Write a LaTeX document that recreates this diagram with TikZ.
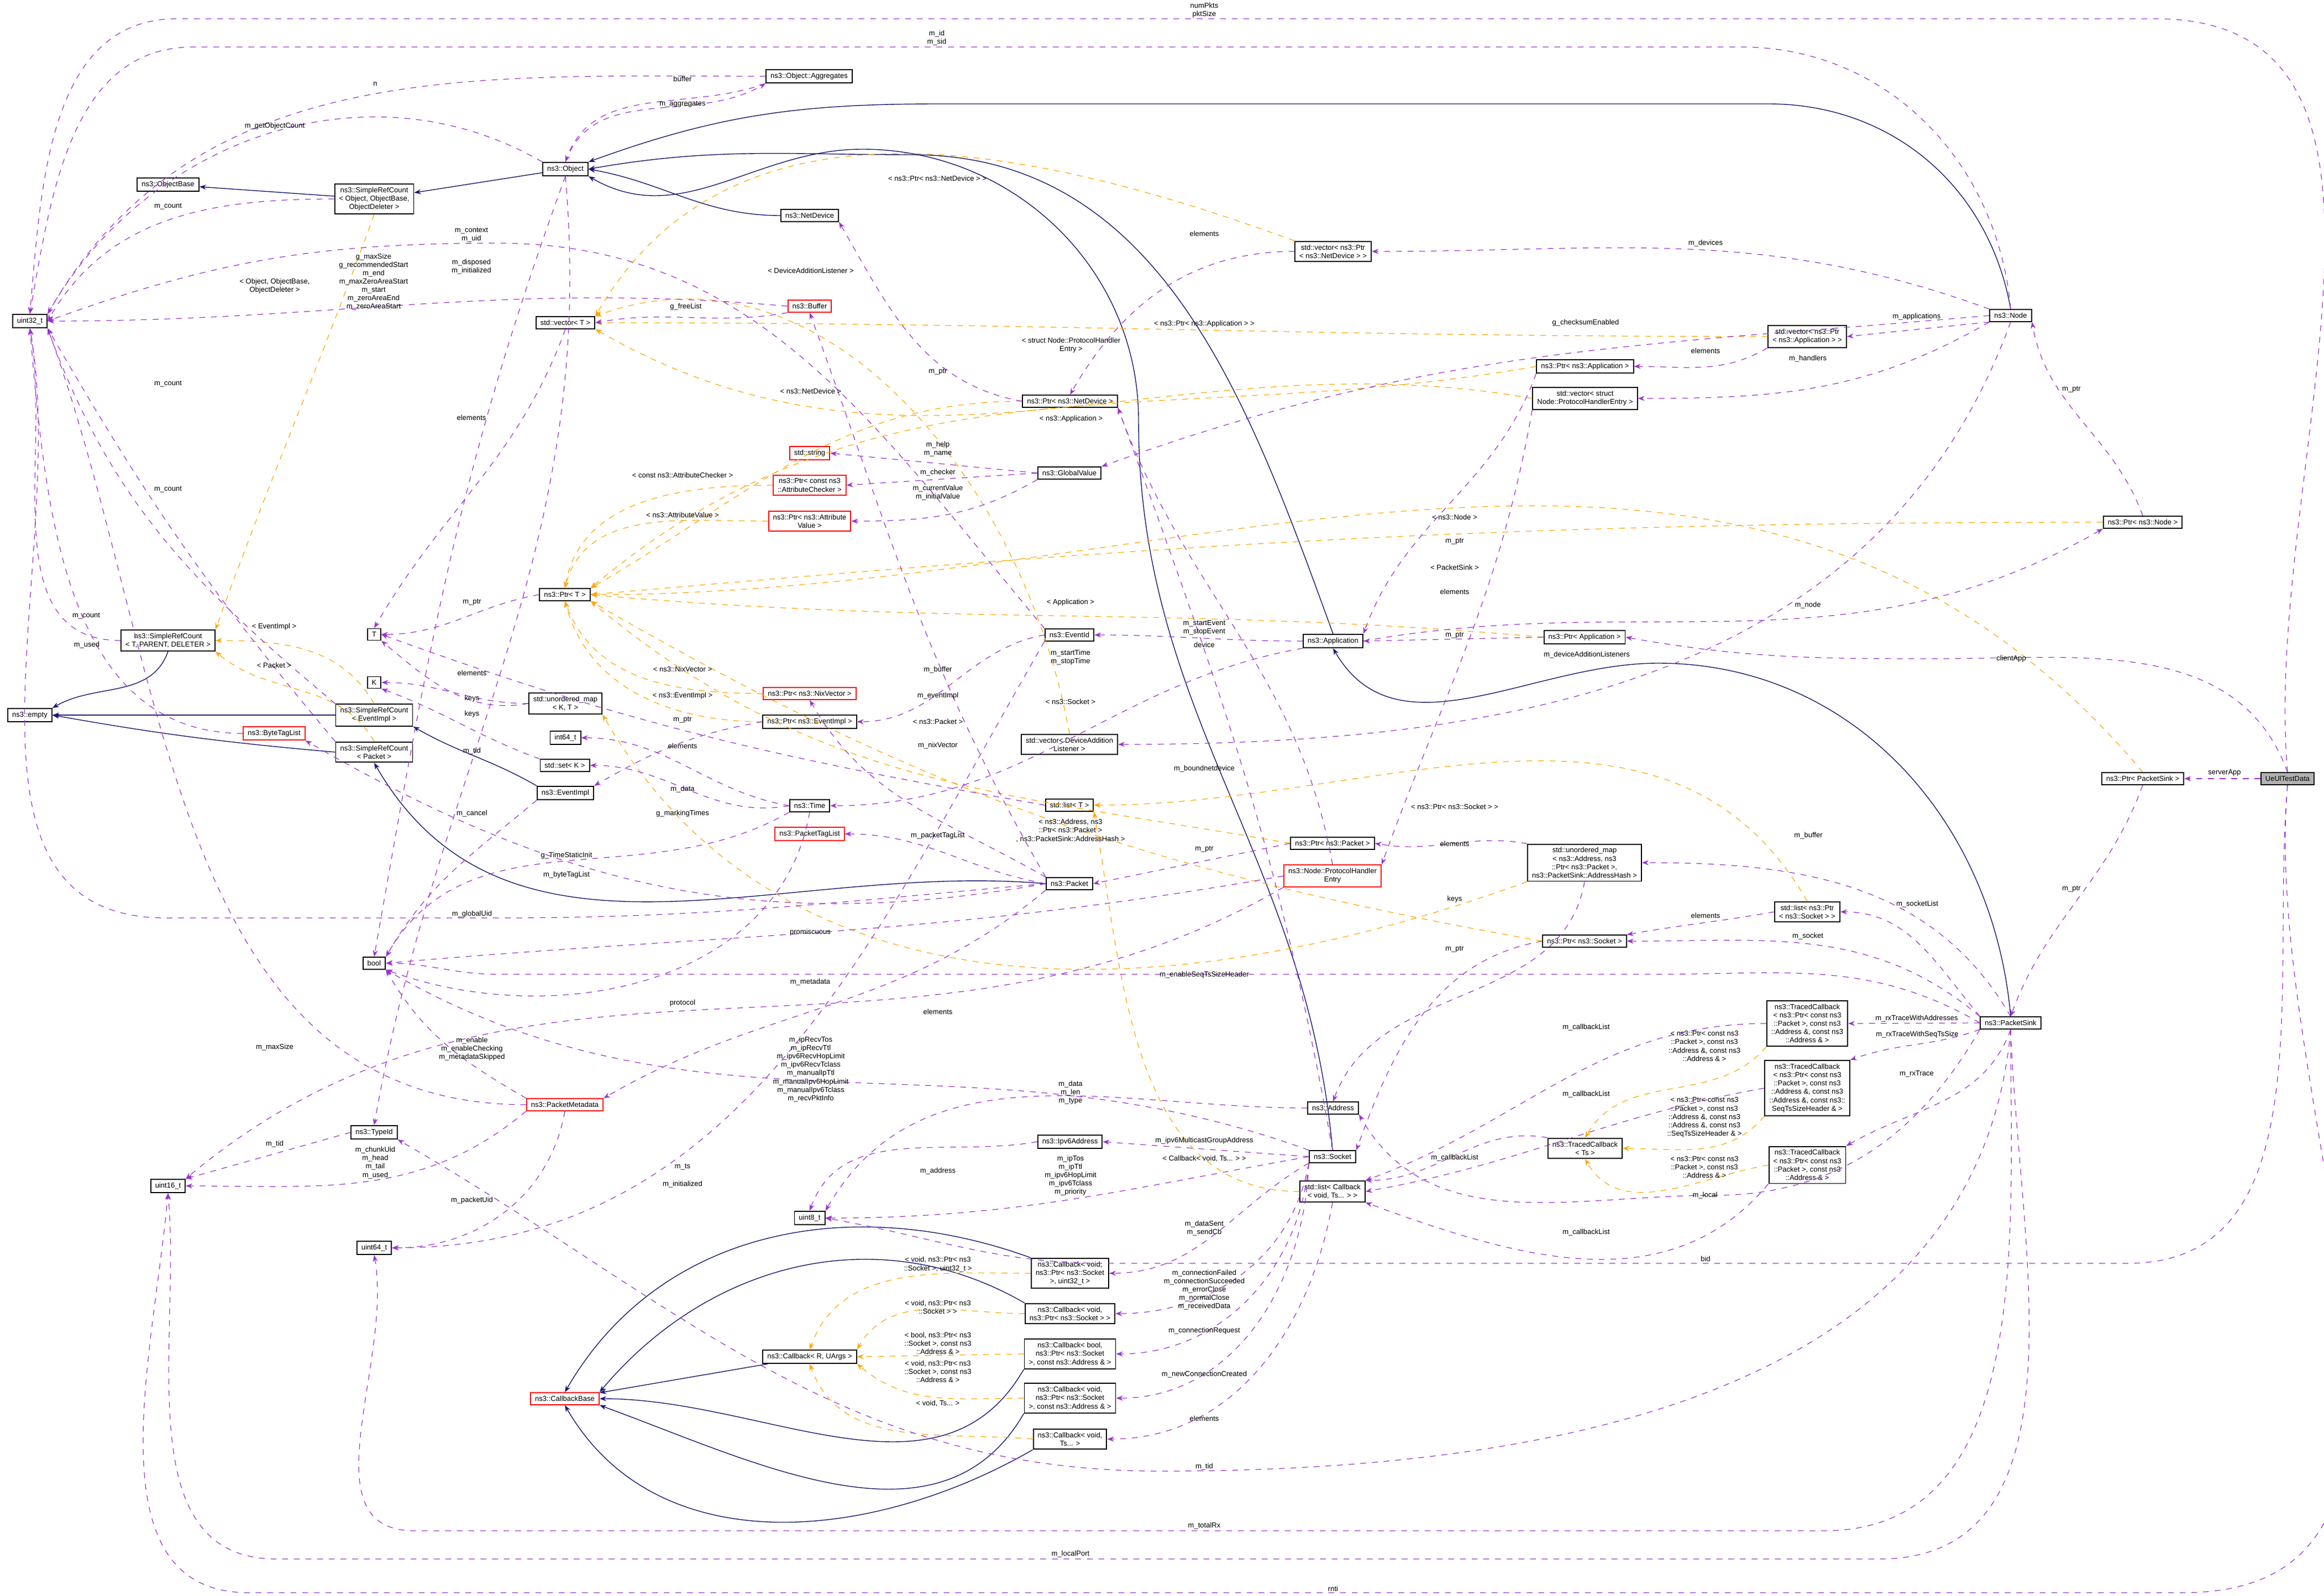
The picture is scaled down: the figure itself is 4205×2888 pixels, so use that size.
\documentclass[tikz,border=0pt]{standalone}
\usepackage{fontspec}
\setmainfont{Liberation Sans}
\usetikzlibrary{arrows.meta}
\definecolor{pur}{HTML}{9A32CD}
\definecolor{org}{HTML}{FFA500}
\definecolor{nav}{HTML}{191970}
\begin{document}
\begin{tikzpicture}[x=0.01cm,y=-0.01cm,
  font=\fontsize{3.7}{4.3}\selectfont,
  box/.style={draw=black,line width=0.55pt,fill=white,inner xsep=0.08cm,inner ysep=0.06cm,align=center},
  rbox/.style={box,draw=red},
  gbox/.style={box,fill=black!30},
  mem/.style={draw=pur,dashed,line width=0.35pt,-{Stealth[length=0.12cm,width=0.09cm]}},
  tpl/.style={draw=org,dashed,line width=0.35pt,-{Stealth[length=0.12cm,width=0.09cm]}},
  inh/.style={draw=nav,line width=0.4pt,-{Stealth[length=0.12cm,width=0.09cm]}},
  lbl/.style={inner sep=0.5pt,align=center,fill=white,fill opacity=0,text opacity=1}]
\useasboundingbox (0,0) rectangle (4205,2888);
% ---------- nodes ----------
\node[box] (u32) at (54,581) {uint32\_t};
\node[box] (obase) at (304,334) {ns3::ObjectBase};
\node[box] (srcobj) at (677,360) {ns3::SimpleRefCount\\< Object, ObjectBase,\\ObjectDeleter >};
\node[box] (obj) at (1023,306) {ns3::Object};
\node[box] (aggr) at (1464,138) {ns3::Object::Aggregates};
\node[box] (vecT) at (1023,584) {std::vector< T >};
\node[box] (netdev) at (1465,390) {ns3::NetDevice};
\node[rbox] (buffer) at (1465,554) {ns3::Buffer};
\node[box] (vecnd) at (2412,455) {std::vector< ns3::Ptr\\< ns3::NetDevice > >};
\node[box] (ptrnd) at (1936,726) {ns3::Ptr< ns3::NetDevice >};
\node[rbox] (string) at (1465,820) {std::string};
\node[box] (gv) at (1935,856) {ns3::GlobalValue};
\node[rbox] (ptrchk) at (1465,878) {ns3::Ptr< const ns3\\::AttributeChecker >};
\node[rbox] (ptrav) at (1465,943) {ns3::Ptr< ns3::Attribute\\Value >};
\node[box] (ptrapp1) at (2868,663) {ns3::Ptr< ns3::Application >};
\node[box] (vecphe) at (2868,721) {std::vector< struct\\Node::ProtocolHandlerEntry >};
\node[box] (node) at (3638,571) {ns3::Node};
\node[box] (vecapp) at (3270,609) {std::vector< ns3::Ptr\\< ns3::Application > >};
\node[box] (ptrnode) at (3877,945) {ns3::Ptr< ns3::Node >};
\node[box] (ptrT) at (1022,1076) {ns3::Ptr< T >};
\node[box] (T) at (677,1148) {T};
\node[box] (K) at (677,1235) {K};
\node[box] (srcT) at (304,1159) {ns3::SimpleRefCount\\< T, PARENT, DELETER >};
\node[box] (empty) at (54,1294) {ns3::empty};
\node[box] (srcev) at (677,1294) {ns3::SimpleRefCount\\< EventImpl >};
\node[rbox] (btl) at (496,1327) {ns3::ByteTagList};
\node[box] (srcpkt) at (677,1361) {ns3::SimpleRefCount\\< Packet >};
\node[box] (umapKT) at (1023,1273) {std::unordered\_map\\< K, T >};
\node[box] (i64) at (1023,1335) {int64\_t};
\node[box] (setK) at (1022,1385) {std::set< K >};
\node[box] (evimpl) at (1023,1435) {ns3::EventImpl};
\node[box] (bool) at (677,1743) {bool};
\node[box] (evid) at (1935,1149) {ns3::EventId};
\node[box] (app) at (2412,1160) {ns3::Application};
\node[rbox] (ptrnix) at (1465,1255) {ns3::Ptr< ns3::NixVector >};
\node[box] (ptrevi) at (1465,1306) {ns3::Ptr< ns3::EventImpl >};
\node[box] (vecdal) at (1935,1347) {std::vector< DeviceAddition\\Listener >};
\node[box] (time) at (1465,1458) {ns3::Time};
\node[box] (listT) at (1935,1457) {std::list< T >};
\node[rbox] (ptl) at (1465,1509) {ns3::PacketTagList};
\node[box] (pkt) at (1935,1599) {ns3::Packet};
\node[box] (ptrpkt) at (2411,1526) {ns3::Ptr< ns3::Packet >};
\node[rbox] (phe) at (2411,1585) {ns3::Node::ProtocolHandler\\Entry};
\node[box] (umapaddr) at (2867,1561) {std::unordered\_map\\< ns3::Address, ns3\\::Ptr< ns3::Packet >,\\ns3::PacketSink::AddressHash >};
\node[box] (ptrsock) at (2867,1703) {ns3::Ptr< ns3::Socket >};
\node[box] (ptrapp2) at (2867,1153) {ns3::Ptr< Application >};
\node[box] (ptrsink) at (3877,1409) {ns3::Ptr< PacketSink >};
\node[gbox] (ue) at (4139,1409) {UeUlTestData};
\node[box] (listsock) at (3270,1650) {std::list< ns3::Ptr\\< ns3::Socket > >};
\node[box] (sink) at (3638,1851) {ns3::PacketSink};
\node[box] (tc5) at (3270,1852) {ns3::TracedCallback\\< ns3::Ptr< const ns3\\::Packet >, const ns3\\::Address \&, const ns3\\::Address \& >};
\node[box] (tc6) at (3270,1969) {ns3::TracedCallback\\< ns3::Ptr< const ns3\\::Packet >, const ns3\\::Address \&, const ns3\\::Address \&, const ns3::\\SeqTsSizeHeader \& >};
\node[box] (tcts) at (2868,2078) {ns3::TracedCallback\\< Ts >};
\node[box] (tc4) at (3270,2108) {ns3::TracedCallback\\< ns3::Ptr< const ns3\\::Packet >, const ns3\\::Address \& >};
\node[box] (addr) at (2412,2005) {ns3::Address};
\node[box] (ipv6) at (1936,2066) {ns3::Ipv6Address};
\node[box] (sock) at (2411,2093) {ns3::Socket};
\node[box] (listcb) at (2411,2156) {std::list< Callback\\< void, Ts... > >};
\node[box] (u8) at (1465,2204) {uint8\_t};
\node[box] (cb1) at (1936,2304) {ns3::Callback< void,\\ns3::Ptr< ns3::Socket\\>, uint32\_t >};
\node[box] (cb2) at (1936,2377) {ns3::Callback< void,\\ns3::Ptr< ns3::Socket > >};
\node[box] (cb3) at (1936,2450) {ns3::Callback< bool,\\ns3::Ptr< ns3::Socket\\>, const ns3::Address \& >};
\node[box] (cb4) at (1936,2530) {ns3::Callback< void,\\ns3::Ptr< ns3::Socket\\>, const ns3::Address \& >};
\node[box] (cb5) at (1936,2604) {ns3::Callback< void,\\Ts... >};
\node[box] (cbR) at (1465,2455) {ns3::Callback< R, UArgs >};
\node[box] (u16) at (304,2146) {uint16\_t};
\node[box] (typeid) at (677,2049) {ns3::TypeId};
\node[rbox] (pmeta) at (1022,1999) {ns3::PacketMetadata};
\node[box] (u64) at (677,2258) {uint64\_t};
\node[rbox] (cbbase) at (1022,2531) {ns3::CallbackBase};
% ---------- inheritance ----------
\draw[inh] (srcobj) -- (obase);
\draw[inh] (obj) -- (srcobj);
\draw[inh] (netdev.west) to[out=180,in=-10] (obj.east);
\draw[inh] (node.north) to[out=100,in=0] (3200,188) -- (1700,188) to[out=180,in=20] (obj.north east);
\draw[inh] (app.north) to[out=110,in=0] (1650,280) to[out=180,in=10] (obj.east);
\draw[inh] (sock.north) to[out=95,in=-90] (2060,760) to[out=90,in=0] (1560,270) to[out=180,in=-30] (obj.south east);
\draw[inh] (sink.north) to[out=95,in=0] (3000,1200) to[out=180,in=-60] (app.south);
\draw[inh] (evimpl.north west) to[out=150,in=-30] (srcev.south east);
\draw[inh] (pkt.west) to[out=175,in=-60] (srcpkt.south);
\draw[inh] (srcT.south) to[out=-110,in=30] (empty.north east);
\draw[inh] (srcev) -- (empty);
\draw[inh] (srcpkt.west) to[out=175,in=-10] (empty.east);
\draw[inh] (cbR) -- (cbbase);
\draw[inh] (cb1.north west) to[out=160,in=60] (cbbase.north);
\draw[inh] (cb2.north west) to[out=150,in=50] (cbbase.north east);
\draw[inh] (cb3.south west) to[out=-120,in=0] (cbbase.east);
\draw[inh] (cb4.south west) to[out=-120,in=-20] (cbbase.south east);
\draw[inh] (cb5.south west) to[out=-150,in=-60] (cbbase.south);
% ---------- template (orange) ----------
\draw[tpl] (srcobj.south) to[out=-110,in=70] (srcT.north east);
\draw[tpl] (srcev.north) to[out=120,in=0] (srcT.east);
\draw[tpl] (srcpkt.north) to[out=120,in=-40] (srcT.south east);
\draw[tpl] (vecnd.north west) to[out=160,in=60] (vecT.north east);
\draw[tpl] (vecdal.north) to[out=100,in=20] (vecT.north east);
\draw[tpl] (vecapp.west) to[out=180,in=0] (vecT.east);
\draw[tpl] (vecphe.west) to[out=170,in=-30] (vecT.south east);
\draw[tpl] (ptrnd.west) to[out=180,in=30] (ptrT.north east);
\draw[tpl] (ptrapp1.west) to[out=190,in=40] (ptrT.north east);
\draw[tpl] (ptrchk.west) to[out=180,in=80] (ptrT.north);
\draw[tpl] (ptrav.west) to[out=180,in=75] (ptrT.north);
\draw[tpl] (ptrnode.west) to[out=180,in=5] (ptrT.east);
\draw[tpl] (ptrsink.north) to[out=130,in=0] (ptrT.east);
\draw[tpl] (ptrapp2.west) to[out=175,in=-5] (ptrT.east);
\draw[tpl] (ptrnix.west) to[out=180,in=-70] (ptrT.south);
\draw[tpl] (ptrevi.west) to[out=180,in=-75] (ptrT.south);
\draw[tpl] (ptrsock.west) to[out=170,in=-30] (ptrT.south east);
\draw[tpl] (ptrpkt.west) to[out=170,in=-40] (ptrT.south east);
\draw[tpl] (umapaddr.south west) to[out=200,in=-60] (umapKT.south east);
\draw[tpl] (listsock.north) to[out=120,in=0] (listT.east);
\draw[tpl] (listcb.west) to[out=180,in=-80] (listT.south east);
\draw[tpl] (tc5.south west) to[out=-130,in=60] (tcts.north);
\draw[tpl] (tc6.south west) to[out=-130,in=0] (tcts.east);
\draw[tpl] (tc4.west) to[out=190,in=-60] (tcts.south);
\draw[tpl] (cb1.west) to[out=180,in=70] (cbR.north);
\draw[tpl] (cb2.west) to[out=180,in=60] (cbR.north east);
\draw[tpl] (cb3.west) -- (cbR.east);
\draw[tpl] (cb4.west) to[out=180,in=-40] (cbR.south east);
\draw[tpl] (cb5.west) to[out=175,in=-70] (cbR.south);
% ---------- members (purple) ----------
\draw[mem] (ue.north) to[out=95,in=0] (3900,34) -- (320,34) to[out=180,in=85] (u32.north);
\draw[mem] (node.north) to[out=95,in=0] (3150,85) -- (350,85) to[out=180,in=80] (u32.north);
\draw[mem] (aggr.west) to[out=180,in=60] (u32.north east);
\draw[mem] (aggr.south west) to[out=200,in=70] (obj.north);
\draw[mem] (obj.north) to[out=70,in=-150] (aggr.south west);
\draw[mem] (obj.north west) to[out=150,in=60] (u32.north east);
\draw[mem] (srcobj.west) to[out=180,in=60] (u32.east);
\draw[mem] (evid.north west) to[out=130,in=0] (900,440) to[out=180,in=20] (u32.east);
\draw[mem] (buffer.west) to[out=175,in=0] (u32.east);
\draw[mem] (obj.south) to[out=-110,in=80] (bool.north);
\draw[mem] (buffer.south west) to[out=190,in=10] (vecT.east);
\draw[mem] (vecT.south) to[out=-110,in=60] (T.north);
\draw[mem] (ptrT.west) to[out=190,in=0] (T.east);
\draw[mem] (ptrnd.west) to[out=170,in=-60] (netdev.south east);
\draw[mem] (vecnd.west) to[out=180,in=60] (ptrnd.north);
\draw[mem] (node.north west) to[out=160,in=0] (vecnd.east);
\draw[mem] (node.west) to[out=185,in=20] (gv.north east);
\draw[mem] (node.south west) -- (vecapp.east);
\draw[mem] (vecapp.south west) to[out=-150,in=0] (ptrapp1.east);
\draw[mem] (node.south west) to[out=-150,in=0] (vecphe.east);
\draw[mem] (gv.west) -- (string.east);
\draw[mem] (gv.west) -- (ptrchk.east);
\draw[mem] (gv.south west) to[out=-150,in=0] (ptrav.east);
\draw[mem] (ptrnode.north) to[out=110,in=-80] (node.south east);
\draw[mem] (ptrapp1.south west) to[out=-110,in=70] (app.north east);
\draw[mem] (vecphe.south west) to[out=-100,in=70] (phe.north east);
\draw[mem] (app.west) to[out=180,in=0] (evid.east);
\draw[mem] (app.south west) to[out=190,in=0] (time.east);
\draw[mem] (phe.north) to[out=100,in=-70] (ptrnd.south east);
\draw[mem] (app.east) to[out=10,in=-150] (ptrnode.south west);
\draw[mem] (ptrapp2.west) -- (app.east);
\draw[mem] (node.south) to[out=-110,in=0] (vecdal.east);
\draw[mem] (ue.north) to[out=110,in=0] (3500,1192) to[out=180,in=-10] (ptrapp2.east);
\draw[mem] (ue.west) -- (ptrsink.east);
\draw[mem] (ptrsink.south) to[out=-110,in=70] (sink.north);
\draw[mem] (sink.north) to[out=120,in=0] (umapaddr.east);
\draw[mem] (sink.north west) to[out=130,in=0] (listsock.east);
\draw[mem] (sink.north west) to[out=140,in=0] (ptrsock.east);
\draw[mem] (sink.west) to[out=150,in=0] (3000,1763) -- (900,1763) to[out=180,in=0] (bool.east);
\draw[mem] (sink.west) -- (tc5.east);
\draw[mem] (sink.south west) to[out=-160,in=20] (tc6.north east);
\draw[mem] (sink.south) to[out=-110,in=30] (tc4.north east);
\draw[mem] (sink.south west) to[out=-120,in=0] (3100,2163) to[out=180,in=-60] (addr.south east);
\draw[mem] (sink.south) to[out=-95,in=0] (2100,2662) to[out=180,in=-30] (typeid.south east);
\draw[mem] (sink.south) to[out=-90,in=0] (3300,2770) -- (750,2770) to[out=180,in=-80] (u64.south);
\draw[mem] (sink.south) to[out=-88,in=0] (3400,2821) -- (500,2821) to[out=180,in=-85] (u16.south);
\draw[mem] (ue.south) to[out=-95,in=0] (3950,2882) -- (450,2882) to[out=180,in=-95] (u16.south);
\draw[mem] (ue.south) to[out=-95,in=0] (3850,2286) -- (2000,2286) to[out=180,in=-10] (u8.east);
\draw[mem] (listsock.west) to[out=190,in=10] (ptrsock.north east);
\draw[mem] (umapaddr.north west) to[out=170,in=-10] (ptrpkt.east);
\draw[mem] (umapaddr.south) to[out=-100,in=70] (addr.north);
\draw[mem] (ptrsock.west) to[out=190,in=70] (sock.north east);
\draw[mem] (ptrpkt.west) -- (pkt.east);
\draw[mem] (pkt.west) to[out=170,in=0] (ptl.east);
\draw[mem] (pkt.north west) to[out=120,in=-70] (buffer.south);
\draw[mem] (pkt.north west) to[out=150,in=-60] (ptrnix.south);
\draw[mem] (pkt.west) to[out=190,in=-30] (btl.south east);
\draw[mem] (pkt.west) to[out=185,in=0] (900,1661) -- (300,1661) to[out=180,in=-80] (u32.south);
\draw[mem] (pkt.south west) to[out=-140,in=30] (pmeta.north east);
\draw[mem] (srcT.west) to[out=180,in=-80] (u32.south);
\draw[mem] (srcev.north west) to[out=140,in=-70] (u32.south east);
\draw[mem] (srcpkt.north west) to[out=130,in=-60] (u32.south east);
\draw[mem] (btl.west) to[out=180,in=-85] (u32.south);
\draw[mem] (evimpl.south west) to[out=-140,in=60] (bool.north east);
\draw[mem] (time.south west) to[out=-150,in=60] (bool.north east);
\draw[mem] (time.west) to[out=170,in=0] (i64.east);
\draw[mem] (time.west) to[out=190,in=0] (setK.east);
\draw[mem] (umapKT.west) to[out=190,in=-40] (T.south east);
\draw[mem] (umapKT.west) to[out=180,in=0] (K.east);
\draw[mem] (setK.north west) to[out=160,in=-20] (K.south east);
\draw[mem] (ptrevi.west) to[out=190,in=30] (evimpl.north east);
\draw[mem] (listT.west) to[out=170,in=-20] (T.east);
\draw[mem] (evid.west) to[out=190,in=0] (ptrevi.east);
\draw[mem] (obj.south) to[out=-85,in=80] (typeid.north);
\draw[mem] (phe.west) to[out=190,in=5] (bool.east);
\draw[mem] (phe.south west) to[out=-150,in=40] (u16.north east);
\draw[mem] (pmeta.west) to[out=180,in=-70] (u32.south east);
\draw[mem] (pmeta.south west) to[out=-140,in=0] (u16.east);
\draw[mem] (pmeta.south) to[out=-100,in=0] (u64.east);
\draw[mem] (pmeta.north west) to[out=150,in=-60] (bool.south east);
\draw[mem] (typeid.west) -- (u16.north east);
\draw[mem] (sock.west) to[out=190,in=0] (u8.east);
\draw[mem] (sock.north west) to[out=160,in=-30] (bool.south east);
\draw[mem] (addr.west) to[out=180,in=60] (u8.north east);
\draw[mem] (sock.west) -- (ipv6.east);
\draw[mem] (ipv6.west) to[out=190,in=70] (u8.north);
\draw[mem] (sock.south west) to[out=-150,in=0] (cb1.east);
\draw[mem] (sock.south west) to[out=-100,in=0] (cb2.east);
\draw[mem] (sock.south west) to[out=-95,in=0] (cb3.east);
\draw[mem] (sock.south west) to[out=-92,in=0] (cb4.east);
\draw[mem] (listcb.south) to[out=-100,in=0] (cb5.east);
\draw[mem] (sock.north) to[out=100,in=-70] (ptrnd.south east);
\draw[mem] (tcts.north west) to[out=170,in=0] (listcb.north east);
\draw[mem] (tc5.west) to[out=180,in=20] (listcb.north east);
\draw[mem] (tc6.west) to[out=190,in=10] (listcb.east);
\draw[mem] (tc4.south west) to[out=-130,in=-20] (listcb.south east);
\draw[mem] (evid.south west) to[out=-120,in=0] (u64.east);
\draw[mem] (time.south) to[out=-100,in=-20] (bool.south east);
% ---------- labels ----------
\node[lbl] (l1) at (2179,19) {numPkts\\pktSize};
\node[lbl] (l2) at (1695,69) {m\_id\\m\_sid};
\node[lbl] (l3) at (679,152) {n};
\node[lbl] (l4) at (1235,143) {buffer};
\node[lbl] (l5) at (1235,189) {m\_aggregates};
\node[lbl] (l6) at (497,228) {m\_getObjectCount};
\node[lbl] (l7) at (304,374) {m\_count};
\node[lbl] (l8) at (497,518) {< Object, ObjectBase,\\ObjectDeleter >};
\node[lbl] (l9) at (853,425) {m\_context\\m\_uid};
\node[lbl] (l10) at (676,510) {g\_maxSize\\g\_recommendedStart\\m\_end\\m\_maxZeroAreaStart\\m\_start\\m\_zeroAreaEnd\\m\_zeroAreaStart};
\node[lbl] (l11) at (853,483) {m\_disposed\\m\_initialized};
\node[lbl] (l12) at (1241,555) {g\_freeList};
\node[lbl] (l13) at (853,756) {elements};
\node[lbl] (l14) at (304,695) {m\_count};
\node[lbl] (l15) at (304,886) {m\_count};
\node[lbl] (l16) at (1235,860) {< const ns3::AttributeChecker >};
\node[lbl] (l17) at (1235,932) {< ns3::AttributeValue >};
\node[lbl] (l18) at (1696,323) {< ns3::Ptr< ns3::NetDevice > >};
\node[lbl] (l19) at (2179,423) {elements};
\node[lbl] (l20) at (1467,490) {< DeviceAdditionListener >};
\node[lbl] (l21) at (2179,586) {< ns3::Ptr< ns3::Application > >};
\node[lbl] (l22) at (1938,625) {< struct Node::ProtocolHandler\\Entry >};
\node[lbl] (l23) at (1697,673) {m\_ptr};
\node[lbl] (l24) at (1467,708) {< ns3::NetDevice >};
\node[lbl] (l25) at (1938,758) {< ns3::Application >};
\node[lbl] (l26) at (1697,813) {m\_help\\m\_name};
\node[lbl] (l27) at (1697,855) {m\_checker};
\node[lbl] (l28) at (1697,892) {m\_currentValue\\m\_initialValue};
\node[lbl] (l29) at (2632,936) {< ns3::Node >};
\node[lbl] (l30) at (2632,980) {m\_ptr};
\node[lbl] (l31) at (3086,440) {m\_devices};
\node[lbl] (l32) at (2869,584) {g\_checksumEnabled};
\node[lbl] (l33) at (3468,573) {m\_applications};
\node[lbl] (l34) at (3086,635) {elements};
\node[lbl] (l35) at (3271,649) {m\_handlers};
\node[lbl] (l36) at (3748,705) {m\_ptr};
\node[lbl] (l37) at (156,1115) {m\_count};
\node[lbl] (l38) at (157,1167) {m\_used};
\node[lbl] (l39) at (496,1134) {< EventImpl >};
\node[lbl] (l40) at (496,1204) {< Packet >};
\node[lbl] (l41) at (854,1090) {m\_ptr};
\node[lbl] (l42) at (854,1218) {elements};
\node[lbl] (l43) at (854,1264) {keys};
\node[lbl] (l44) at (854,1292) {keys};
\node[lbl] (l45) at (854,1359) {m\_tid};
\node[lbl] (l46) at (1235,1211) {< ns3::NixVector >};
\node[lbl] (l47) at (1235,1259) {< ns3::EventImpl >};
\node[lbl] (l48) at (1235,1303) {m\_ptr};
\node[lbl] (l49) at (1235,1350) {elements};
\node[lbl] (l50) at (1235,1428) {m\_data};
\node[lbl] (l51) at (1235,1472) {g\_markingTimes};
\node[lbl] (l52) at (854,1472) {m\_cancel};
\node[lbl] (l53) at (1025,1548) {g\_TimeStaticInit};
\node[lbl] (l54) at (1025,1583) {m\_byteTagList};
\node[lbl] (l55) at (854,1654) {m\_globalUid};
\node[lbl] (l56) at (1235,1815) {protocol};
\node[lbl] (l57) at (497,1895) {m\_maxSize};
\node[lbl] (l58) at (854,1898) {m\_enable\\m\_enableChecking\\m\_metadataSkipped};
\node[lbl] (l59) at (2632,1027) {< PacketSink >};
\node[lbl] (l60) at (2632,1071) {elements};
\node[lbl] (l61) at (1937,1090) {< Application >};
\node[lbl] (l62) at (2179,1136) {m\_startEvent\\m\_stopEvent};
\node[lbl] (l63) at (2179,1167) {device};
\node[lbl] (l64) at (1937,1190) {m\_startTime\\m\_stopTime};
\node[lbl] (l65) at (2632,1150) {m\_ptr};
\node[lbl] (l66) at (1697,1212) {m\_buffer};
\node[lbl] (l67) at (1697,1259) {m\_eventImpl};
\node[lbl] (l68) at (1937,1270) {< ns3::Socket >};
\node[lbl] (l69) at (1697,1306) {< ns3::Packet >};
\node[lbl] (l70) at (1697,1349) {m\_nixVector};
\node[lbl] (l71) at (2179,1391) {m\_boundnetdevice};
\node[lbl] (l72) at (2632,1460) {< ns3::Ptr< ns3::Socket > >};
\node[lbl] (l73) at (1937,1503) {< ns3::Address, ns3\\::Ptr< ns3::Packet >\\, ns3::PacketSink::AddressHash >};
\node[lbl] (l74) at (1697,1512) {m\_packetTagList};
\node[lbl] (l75) at (2179,1537) {m\_ptr};
\node[lbl] (l76) at (2632,1527) {elements};
\node[lbl] (l77) at (2632,1627) {keys};
\node[lbl] (l78) at (1466,1687) {promiscuous};
\node[lbl] (l79) at (2632,1718) {m\_ptr};
\node[lbl] (l80) at (2179,1764) {m\_enableSeqTsSizeHeader};
\node[lbl] (l81) at (1466,1777) {m\_metadata};
\node[lbl] (l82) at (1697,1831) {elements};
\node[lbl] (l83) at (1467,1935) {m\_ipRecvTos\\m\_ipRecvTtl\\m\_ipv6RecvHopLimit\\m\_ipv6RecvTclass\\m\_manualIpTtl\\m\_manualIpv6HopLimit\\m\_manualIpv6Tclass\\m\_recvPktInfo};
\node[lbl] (l84) at (3271,1095) {m\_node};
\node[lbl] (l85) at (2871,1185) {m\_deviceAdditionListeners};
\node[lbl] (l86) at (3639,1192) {clientApp};
\node[lbl] (l87) at (4025,1398) {serverApp};
\node[lbl] (l88) at (3272,1512) {m\_buffer};
\node[lbl] (l89) at (3748,1609) {m\_ptr};
\node[lbl] (l90) at (3469,1636) {m\_socketList};
\node[lbl] (l91) at (3086,1657) {elements};
\node[lbl] (l92) at (3271,1694) {m\_socket};
\node[lbl] (l93) at (2870,1859) {m\_callbackList};
\node[lbl] (l94) at (3084,1893) {< ns3::Ptr< const ns3\\::Packet >, const ns3\\::Address \&, const ns3\\::Address \& >};
\node[lbl] (l95) at (3468,1843) {m\_rxTraceWithAddresses};
\node[lbl] (l96) at (3469,1872) {m\_rxTraceWithSeqTsSize};
\node[lbl] (l97) at (3468,1943) {m\_rxTrace};
\node[lbl] (l98) at (2870,1980) {m\_callbackList};
\node[lbl] (l99) at (3084,2022) {< ns3::Ptr< const ns3\\::Packet >, const ns3\\::Address \&, const ns3\\::Address \&, const ns3\\::SeqTsSizeHeader \& >};
\node[lbl] (l100) at (3084,2112) {< ns3::Ptr< const ns3\\::Packet >, const ns3\\::Address \& >};
\node[lbl] (l101) at (3085,2163) {m\_local};
\node[lbl] (l102) at (2870,2230) {m\_callbackList};
\node[lbl] (l103) at (3086,2278) {bid};
\node[lbl] (l104) at (1937,1977) {m\_data\\m\_len\\m\_type};
\node[lbl] (l105) at (2179,2064) {m\_ipv6MulticastGroupAddress};
\node[lbl] (l106) at (2179,2097) {< Callback< void, Ts... > >};
\node[lbl] (l107) at (1697,2119) {m\_address};
\node[lbl] (l108) at (1937,2127) {m\_ipTos\\m\_ipTtl\\m\_ipv6HopLimit\\m\_ipv6Tclass\\m\_priority};
\node[lbl] (l109) at (2632,2095) {m\_callbackList};
\node[lbl] (l110) at (2179,2223) {m\_dataSent\\m\_sendCb};
\node[lbl] (l111) at (1697,2288) {< void, ns3::Ptr< ns3\\::Socket >, uint32\_t >};
\node[lbl] (l112) at (2179,2334) {m\_connectionFailed\\m\_connectionSucceeded\\m\_errorClose\\m\_normalClose\\m\_receivedData};
\node[lbl] (l113) at (1697,2365) {< void, ns3::Ptr< ns3\\::Socket > >};
\node[lbl] (l114) at (2179,2408) {m\_connectionRequest};
\node[lbl] (l115) at (1697,2431) {< bool, ns3::Ptr< ns3\\::Socket >, const ns3\\::Address \& >};
\node[lbl] (l116) at (1697,2482) {< void, ns3::Ptr< ns3\\::Socket >, const ns3\\::Address \& >};
\node[lbl] (l117) at (2179,2487) {m\_newConnectionCreated};
\node[lbl] (l118) at (1697,2540) {< void, Ts... >};
\node[lbl] (l119) at (2179,2567) {elements};
\node[lbl] (l120) at (2179,2654) {m\_tid};
\node[lbl] (l121) at (2179,2761) {m\_totalRx};
\node[lbl] (l122) at (1937,2812) {m\_localPort};
\node[lbl] (l123) at (2412,2875) {rnti};
\node[lbl] (l124) at (497,2070) {m\_tid};
\node[lbl] (l125) at (679,2104) {m\_chunkUid\\m\_head\\m\_tail\\m\_used};
\node[lbl] (l126) at (854,2172) {m\_packetUid};
\node[lbl] (l127) at (1235,2112) {m\_ts};
\node[lbl] (l128) at (1235,2143) {m\_initialized};
\end{tikzpicture}
\end{document}
